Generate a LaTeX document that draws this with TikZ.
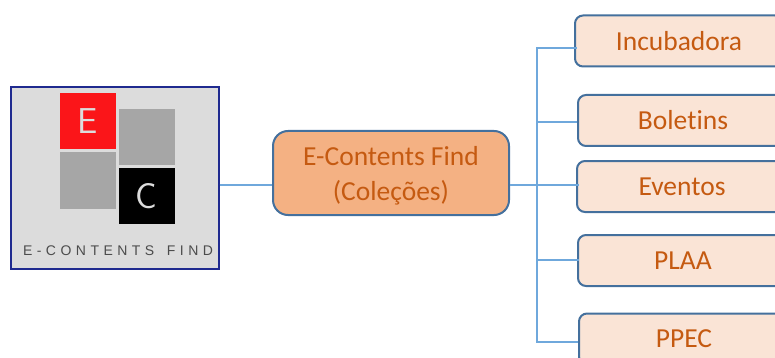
\documentclass[tikz,border=0pt]{standalone}
\usepackage{fontspec}
\setmainfont[Ligatures=NoCommon]{Carlito}
\newfontfamily\logofont[LetterSpace=32,WordSpace=1.5]{Liberation Sans}
\definecolor{hubfill}{HTML}{F4B183}
\definecolor{boxfill}{HTML}{FAE4D6}
\definecolor{boxline}{HTML}{44709D}
\definecolor{boxtext}{HTML}{C55A11}
\definecolor{wire}{HTML}{6FA8DC}
\definecolor{logoline}{HTML}{1F2A8F}
\definecolor{logofill}{HTML}{DCDCDC}
\definecolor{logogray}{HTML}{A6A6A6}
\definecolor{logored}{HTML}{FB1519}
\begin{document}
\begin{tikzpicture}[x=1pt,y=-1pt]
	\tikzstyle{item}=[draw=boxline,line width=2pt,rounded corners=8pt,fill=boxfill,text=boxtext,minimum width=210pt,minimum height=51pt,font=\fontsize{27.5}{33}\selectfont,inner sep=0pt]
	\tikzstyle{square}=[minimum width=56pt,minimum height=56pt,inner sep=0pt,text=logofill,font=\fontsize{36}{38}\selectfont\sffamily]
	\tikzstyle{link}=[draw=wire,line width=1.2pt]
	\useasboundingbox (0,0) rectangle (775,358);
	\clip (0,0) rectangle (775,358);
	% logo
	\node[draw=logoline,line width=1.4pt,fill=logofill,minimum width=208pt,minimum height=182pt,inner sep=0pt](logo) at (115,178) {};
	\node[square,fill=logored](s1) at (87.5,121) {\raisebox{-3.5pt}{E}};
	\node[square,fill=logogray](s2) at (147,137) {};
	\node[square,fill=logogray](s3) at (87.5,180.5) {};
	\node[square,fill=black](s4) at (146.5,196) {C};
	\node[text=black!70,font=\fontsize{14}{15}\selectfont\logofont,inner sep=0pt](logotext) at (118,251) {E-CONTENTS FIND};
	% centre
	\node[item,fill=hubfill,minimum width=236pt,minimum height=84pt,rounded corners=15pt,align=center,font=\fontsize{27.5}{35}\selectfont](hub) at (391,173) {\rule{0pt}{24pt}E-Contents Find\\(Coleções)};
	% right column
	\node[item,minimum width=208pt](b1) at (679,41) {Incubadora};
	\node[item](b2) at (683,120.5) {Boletins};
	\node[item](b3) at (682,186.5) {Eventos};
	\node[item](b4) at (683,260.5) {PLAA};
	\node[item](b5) at (684,339) {PPEC};
	\coordinate (bus) at (537,185);
	\draw[link](logo.east |- bus) -- (hub.west |- bus);
	\draw[link](hub.east |- bus) -- (bus);
	\draw[link](bus) |- ([xshift=3pt,yshift=-7pt]b1.west);
	\draw[link](bus) |- ([yshift=-1.5pt]b2.west);
	\draw[link](bus) |- ([xshift=3pt,yshift=1.5pt]b3.west);
	\draw[link](bus) |- ([xshift=2pt,yshift=0.5pt]b4.west);
	\draw[link](bus) |- ([yshift=-3pt]b5.west);
\end{tikzpicture}
\end{document}
